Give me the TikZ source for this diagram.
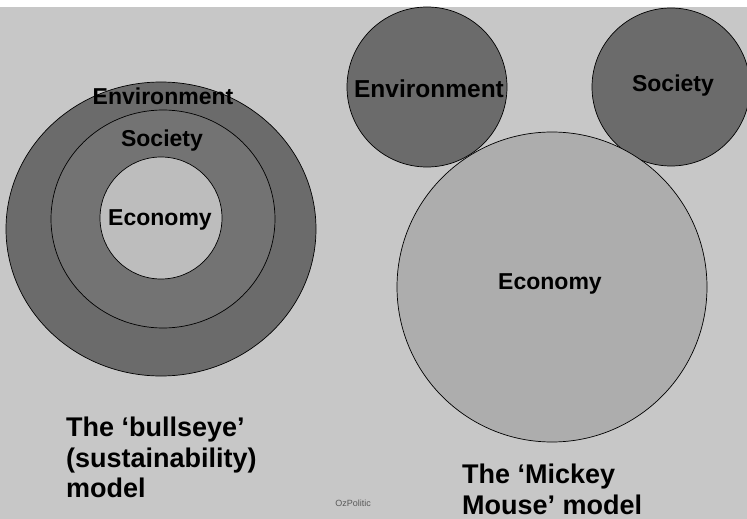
\documentclass[tikz,border=0pt]{standalone}
\usepackage{fontspec}
\setmainfont{Liberation Sans}
\usetikzlibrary{positioning}
\definecolor{paper}{gray}{0.78}
\definecolor{ringdark}{gray}{0.42}
\definecolor{ringmid}{gray}{0.45}
\definecolor{corelight}{gray}{0.74}
\definecolor{headlight}{gray}{0.68}

\begin{document}
\begin{tikzpicture}[x=1pt,y=-1pt,
    ring/.style={draw=black,line width=0.7pt},
    lbl/.style={font=\fontsize{23}{26}\selectfont\bfseries,inner sep=0pt},
    caption/.style={font=\fontsize{27}{30.5}\selectfont\bfseries,align=left,anchor=north west,inner sep=0pt}]
      \useasboundingbox (0,0) rectangle (747,519);
      \fill[white] (0,0) rectangle (747,519);
      \fill[paper] (0,7) rectangle (747,519);

      % bullseye: environment > society > economy
      \draw[ring,fill=ringdark] (161,229) circle [x radius=155pt,y radius=147pt];
      \draw[ring,fill=ringmid] (163,219) circle [x radius=112pt,y radius=109pt];
      \draw[ring,fill=corelight] (161,218) circle [radius=61pt];

      \node[lbl] (envB) at (163,96) {Environment};
      \node[lbl] (socB) at (162,141) {Society};
      \node[lbl] (ecoB) at (160,220) {Economy};

      % mickey mouse: two ears and the head
      \draw[ring,fill=ringdark] (427,87) circle [radius=80pt];
      \draw[ring,fill=ringdark] (671,87) circle [radius=79pt];
      \draw[ring,fill=headlight] (552,287) circle [radius=155pt];

      \node[lbl,font=\fontsize{24.5}{27}\selectfont\bfseries] (envM) at (429,89) {Environment};
      \node[lbl] (socM) at (673,86) {Society};
      \node[lbl] (ecoM) at (550,284) {Economy};

      \node[caption] (capB) at (66,417) {The ‘bullseye’\\(sustainability)\\model};
      \node[caption] (capM) at (462,464) {The ‘Mickey\\Mouse’ model};

      \node[font=\fontsize{9}{10}\selectfont,text=gray!70!black] (tag) at (353,503) {OzPolitic};
\end{tikzpicture}
\end{document}
